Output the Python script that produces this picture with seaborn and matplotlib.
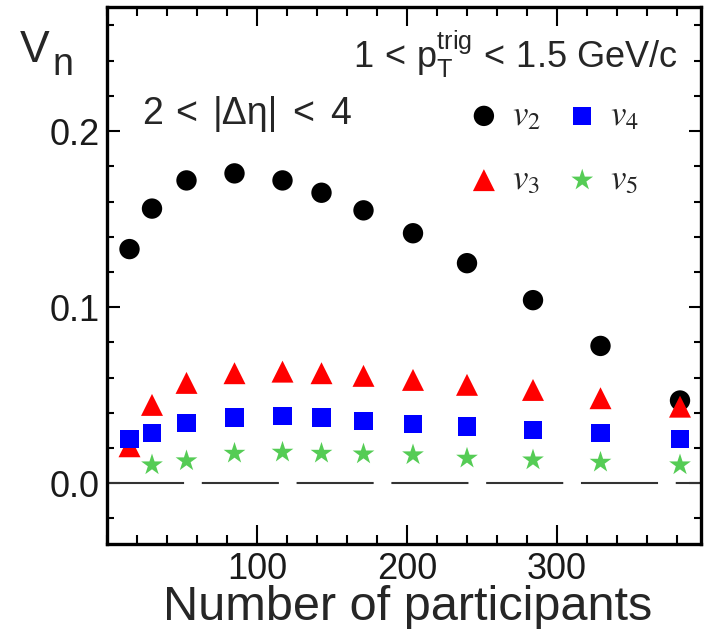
import matplotlib
matplotlib.use("Agg")
import matplotlib.pyplot as plt
import seaborn as sns
import numpy as np
import pandas as pd
from matplotlib.font_manager import FontProperties
from matplotlib.ticker import MultipleLocator

# ---- data ----
npart = [15, 30, 53, 85, 117, 143, 171, 204, 240, 284, 329, 382]
v2 = [0.133, 0.156, 0.172, 0.176, 0.172, 0.165, 0.155, 0.142, 0.125, 0.104, 0.078, 0.047]
v3 = [0.021, 0.0445, 0.057, 0.0625, 0.0634, 0.0625, 0.061, 0.0587, 0.0559, 0.053, 0.0483, 0.0435]
v4 = [0.025, 0.0284, 0.0344, 0.0373, 0.0382, 0.0373, 0.0354, 0.0337, 0.0322, 0.0303, 0.0284, 0.0252]
npart_v5 = [30, 53, 85, 117, 143, 171, 204, 240, 284, 329, 382]
v5 = [0.0104, 0.0127, 0.017, 0.0176, 0.017, 0.0166, 0.0161, 0.0142, 0.0132, 0.0119, 0.0104]
xticks = [100, 200, 300]
yticks = [0.0, 0.1, 0.2]

sns.set_theme(style="ticks")
plt.rcParams['font.family'] = ['Liberation Sans', 'DejaVu Sans']
plt.rcParams['mathtext.fontset'] = 'custom'
plt.rcParams['mathtext.rm'] = 'Liberation Sans'
plt.rcParams['mathtext.it'] = 'Liberation Sans:italic'
plt.rcParams['mathtext.sf'] = 'Liberation Sans'

W, H = 706, 629
fig = plt.figure(figsize=(W/100, H/100), dpi=100)
ax = fig.add_axes([107/W, 1-544/H, (701-107)/W, (544-7)/H])

series = [
    (npart, v2, 'o', 'black', 215, r'$v_2$'),
    (npart, v3, '^', '#ff0000', 250, r'$v_3$'),
    (npart, v4, 's', '#0000ff', 175, r'$v_4$'),
    (npart_v5, v5, '*', '#55cc55', 270, r'$v_5$'),
]
for x, y, m, c, s, lab in series:
    df = pd.DataFrame({'x': x, 'y': y})
    sns.scatterplot(data=df, x='x', y='y', marker=m, color=c, s=s,
                    edgecolor='none', linewidth=0, ax=ax, label=lab, zorder=3)

ax.axhline(0, color='#333333', lw=1.5, ls=(0, (37, 8.5)), zorder=2)

ax.set_xlim(0, 396)
ax.set_ylim(-0.0345, 0.2705)
ax.xaxis.set_minor_locator(MultipleLocator(20))
ax.yaxis.set_minor_locator(MultipleLocator(0.02))
ax.set_xticks(xticks)
ax.set_xticklabels([str(t) for t in xticks])
ax.set_yticks(yticks)
ax.set_yticklabels([f'{t:.1f}' for t in yticks])
ax.tick_params(axis='both', which='both', direction='in', top=True, right=True,
               width=1.5, color='black', labelsize=26, labelcolor='#1a1a1a')
ax.tick_params(axis='x', which='major', length=14, pad=6)
ax.tick_params(axis='x', which='minor', length=6.5)
ax.tick_params(axis='y', which='major', length=9, pad=5)
ax.tick_params(axis='y', which='minor', length=5)
for sp in ax.spines.values():
    sp.set_linewidth(2.4)
    sp.set_color('black')

ax.set_xlabel('')
ax.set_ylabel('')
fig.text(408/W, 1-620/H, 'Number of participants', fontsize=35, ha='center', va='baseline')

# legend
h, l = ax.get_legend_handles_labels()
leg = ax.legend(h, l, ncol=2, loc='upper left',
                bbox_to_anchor=((470-107)/594, 1-(99-7)/537),
                frameon=False, prop=FontProperties(size=25, math_fontfamily='stix'),
                handlelength=0.8, handletextpad=0.4, columnspacing=0.8,
                labelspacing=0.9, borderpad=0, borderaxespad=0, scatterpoints=1)

fig.text(20/W, 1-62/H, 'V', fontsize=32, ha='left', va='baseline')
fig.text(52/W, 1-75/H, 'n', fontsize=27, ha='left', va='baseline')
# 2 < |Δη| < 4 placed piecewise to match spacing
for s, xp in [('2', 142), ('<', 175), ('|Δη|', 213), ('<', 292), ('4', 330)]:
    fig.text(xp/W, 1-124/H, s, fontsize=27, ha='left', va='baseline')
fig.text(353/W, 1-68/H, r'$\mathrm{1\,<\,p_{T}^{trig}\,<\,1.5\ GeV/c}$', fontsize=26,
         ha='left', va='baseline')

fig.savefig('out.png', dpi=100)
